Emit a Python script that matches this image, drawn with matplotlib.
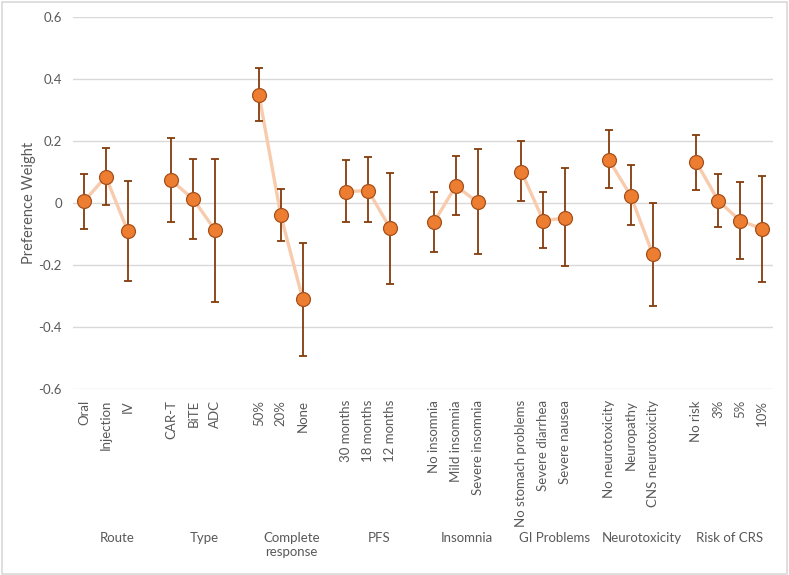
import numpy as np
import matplotlib
matplotlib.use("Agg")
import matplotlib.pyplot as plt
from matplotlib.patches import Rectangle

plt.rcParams['font.family'] = ['Lato', 'DejaVu Sans']

groups = ["Route", "Type", "Complete\nresponse", "PFS", "Insomnia",
          "GI Problems", "Neurotoxicity", "Risk of CRS"]
levels = [
    ["Oral", "Injection", "IV"],
    ["CAR-T", "BiTE", "ADC"],
    ["50%", "20%", "None"],
    ["30 months", "18 months", "12 months"],
    ["No insomnia", "Mild insomnia", "Severe insomnia"],
    ["No stomach problems", "Severe diarrhea", "Severe nausea"],
    ["No neurotoxicity", "Neuropathy", "CNS neurotoxicity"],
    ["No risk", "3%", "5%", "10%"],
]
means = [
    [0.005, 0.085, -0.090],
    [0.073, 0.012, -0.088],
    [0.350, -0.040, -0.310],
    [0.037, 0.040, -0.082],
    [-0.062, 0.055, 0.003],
    [0.101, -0.057, -0.048],
    [0.139, 0.023, -0.165],
    [0.131, 0.007, -0.057, -0.083],
]
lower = [
    [-0.085, -0.005, -0.253],
    [-0.060, -0.115, -0.318],
    [0.265, -0.123, -0.493],
    [-0.062, -0.062, -0.262],
    [-0.157, -0.040, -0.164],
    [0.007, -0.146, -0.204],
    [0.047, -0.071, -0.333],
    [0.043, -0.077, -0.180, -0.255],
]
upper = [
    [0.095, 0.177, 0.070],
    [0.210, 0.143, 0.143],
    [0.435, 0.046, -0.130],
    [0.140, 0.147, 0.098],
    [0.037, 0.151, 0.174],
    [0.199, 0.034, 0.112],
    [0.234, 0.121, 0.001],
    [0.220, 0.095, 0.067, 0.088],
]

W, H = 789, 575
fig = plt.figure(figsize=(W / 100, H / 100), dpi=100)
fig.patches.append(Rectangle((0.002, 0.002), 0.996, 0.994, transform=fig.transFigure,
                             fill=False, edgecolor="#D9D9D9", linewidth=1.2))

left, right, top, bottom = 73 / W, 773 / W, 17 / H, 389 / H
ax = fig.add_axes([left, 1 - bottom, right - left, bottom - top])

gray = "#595959"
slot = 0
xticks, xlabels = [], []
for gi, (g, lv) in enumerate(zip(groups, levels)):
    xs = np.arange(slot, slot + len(lv))
    m = np.array(means[gi]); lo = np.array(lower[gi]); up = np.array(upper[gi])
    ax.plot(xs, m, color="#F8CBAD", lw=2.4, zorder=2, solid_capstyle="round")
    ax.errorbar(xs, m, yerr=[m - lo, up - m], fmt="none", ecolor="#843C0C",
                elinewidth=1.3, capsize=2.6, capthick=1.3, zorder=3)
    ax.plot(xs, m, "o", color="#ED7D31", markeredgecolor="#A5501B",
            markeredgewidth=0.9, markersize=10, zorder=4, linestyle="none")
    xticks.extend(xs); xlabels.extend(lv)
    center = slot + 1.5
    gx = (center + 0.5) / 32
    fig.text(left + (right - left) * gx, 1 - 532 / H, g, ha="center", va="top",
             fontsize=9.5, color=gray, linespacing=1.25)
    slot += 4

ax.set_xlim(-0.5, 31.5)
ax.set_ylim(-0.6, 0.6)
ax.set_yticks([-0.6, -0.4, -0.2, 0, 0.2, 0.4, 0.6])
ax.set_yticklabels(["-0.6", "-0.4", "-0.2", "0", "0.2", "0.4", "0.6"])
ax.set_xticks(xticks)
ax.set_xticklabels(xlabels, rotation=90, ha="center", va="top")
ax.tick_params(axis="both", length=0, colors=gray, labelsize=9.5)
ax.tick_params(axis="x", pad=8)
ax.tick_params(axis="y", pad=8)
ax.grid(axis="y", color="#D9D9D9", lw=1)
ax.set_axisbelow(True)
for s in ax.spines.values():
    s.set_visible(False)
ax.set_ylabel("Preference Weight", fontsize=10.5, color=gray)
ax.yaxis.set_label_coords(-0.053, 0.5)

fig.savefig("out.png", dpi=100)
